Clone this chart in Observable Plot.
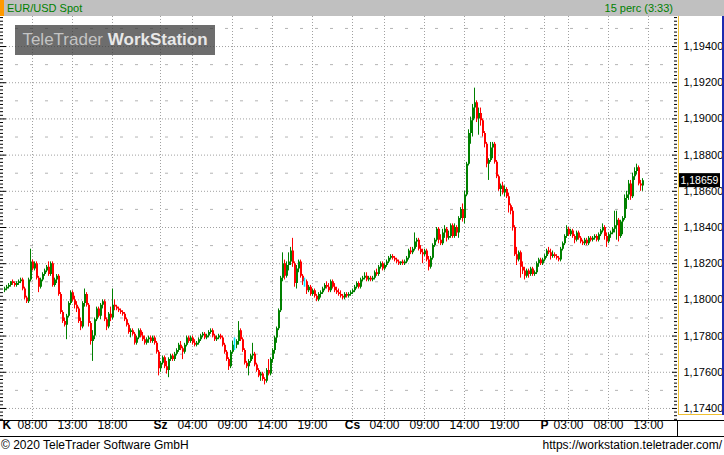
<!DOCTYPE html>
<html><head><meta charset="utf-8">
<script src="https://cdn.jsdelivr.net/npm/d3@7"></script>
<script src="https://cdn.jsdelivr.net/npm/@observablehq/plot@0.6"></script>
<style>
html,body{margin:0;padding:0;background:#fff;}
#wrap{position:relative;width:724px;height:455px;overflow:hidden;font-family:"Liberation Sans",Arial,sans-serif;background:#fff;}
#top{position:absolute;left:0;top:0;width:724px;height:16px;background:#c0c0c0;}
#top .sq{position:absolute;left:0;top:0;width:4px;height:16px;background:#ff9900;}
#top .t{position:absolute;top:0;font-size:11px;line-height:16px;color:#008000;white-space:nowrap;}
#chart{position:absolute;left:0;top:16px;}
.ln{position:absolute;}
#wm{position:absolute;left:15px;top:25px;width:200px;height:30px;background:rgba(60,60,60,0.75);color:#c4c4c4;font-family:"Liberation Sans",Arial,sans-serif;font-size:17px;line-height:30px;text-align:center;white-space:nowrap;}
#wm b{color:#e8e8e8;}
.foot{position:absolute;top:438px;font-size:12px;line-height:14px;color:#000;white-space:nowrap;}
</style></head>
<body>
<div id="wrap">
  <div id="top"><div class="sq"></div><div class="t" style="left:7px">EUR/USD Spot</div><div class="t" style="right:51px">15 perc (3:33)</div></div>
  <div id="chart"></div>
  <div class="ln" style="left:678px;top:16px;width:1px;height:398px;background:#f0c030"></div>
  <div class="ln" style="left:678px;top:414px;width:45px;height:1px;background:#f0c030"></div>
  <div class="ln" style="left:722px;top:16px;width:2px;height:399px;background:#1c2bb0"></div>
  <div class="ln" style="left:0;top:420px;width:724px;height:1px;background:#000"></div>
  <div class="ln" style="left:0;top:436px;width:724px;height:1px;background:#000"></div>
  <div class="ln" style="left:677px;top:420px;width:1px;height:17px;background:#000"></div>
  <div id="wm">TeleTrader <b>WorkStation</b></div>
  <div class="foot" style="left:1px">© 2020 TeleTrader Software GmbH</div>
  <div class="foot" style="right:2px">https://workstation.teletrader.com/</div>
</div>
<script>
// EUR/USD 15-minute candles, first candle K (Tue) 04:30
const firstCandle = "2020-08-04T04:30";
const candleMinutes = 15;
const open = [
1.1805,1.1806,1.1807,1.1808,1.1810,1.1809,1.1808,1.1809,1.1810,1.1811,
1.1806,1.1801,1.1799,1.1811,1.1821,1.1817,1.1820,1.1812,1.1807,1.1811,
1.1814,1.1816,1.1818,1.1814,1.1820,1.1808,1.1811,1.1813,1.1803,1.1793,
1.1788,1.1786,1.1791,1.1798,1.1804,1.1800,1.1797,1.1795,1.1788,1.1785,
1.1798,1.1803,1.1797,1.1787,1.1777,1.1780,1.1789,1.1795,1.1791,1.1797,
1.1799,1.1789,1.1785,1.1792,1.1790,1.1797,1.1796,1.1795,1.1794,1.1793,
1.1792,1.1789,1.1786,1.1782,1.1783,1.1781,1.1776,1.1779,1.1783,1.1780,
1.1778,1.1776,1.1778,1.1779,1.1777,1.1779,1.1776,1.1771,1.1762,1.1765,
1.1768,1.1763,1.1761,1.1767,1.1769,1.1767,1.1770,1.1772,1.1775,1.1773,
1.1771,1.1775,1.1779,1.1777,1.1779,1.1776,1.1775,1.1776,1.1778,1.1780,
1.1781,1.1779,1.1780,1.1782,1.1783,1.1780,1.1778,1.1779,1.1780,1.1779,
1.1775,1.1771,1.1767,1.1763,1.1771,1.1775,1.1775,1.1777,1.1783,1.1778,
1.1772,1.1765,1.1763,1.1766,1.1769,1.1770,1.1764,1.1761,1.1758,1.1759,
1.1756,1.1755,1.1761,1.1759,1.1767,1.1772,1.1779,1.1784,1.1794,1.1812,
1.1820,1.1813,1.1819,1.1821,1.1827,1.1820,1.1809,1.1817,1.1821,1.1813,
1.1810,1.1810,1.1805,1.1807,1.1803,1.1805,1.1802,1.1800,1.1803,1.1804,
1.1806,1.1808,1.1807,1.1805,1.1810,1.1807,1.1805,1.1804,1.1803,1.1802,
1.1801,1.1803,1.1802,1.1803,1.1804,1.1805,1.1807,1.1809,1.1807,1.1811,
1.1812,1.1813,1.1811,1.1812,1.1811,1.1812,1.1815,1.1814,1.1818,1.1820,
1.1817,1.1819,1.1821,1.1823,1.1824,1.1823,1.1822,1.1821,1.1820,1.1821,
1.1820,1.1821,1.1823,1.1827,1.1826,1.1828,1.1832,1.1833,1.1828,1.1826,
1.1825,1.1827,1.1822,1.1818,1.1823,1.1830,1.1833,1.1839,1.1833,1.1831,
1.1837,1.1839,1.1834,1.1835,1.1841,1.1835,1.1840,1.1837,1.1845,1.1850,
1.1845,1.1858,1.1875,1.1892,1.1899,1.1906,1.1909,1.1900,1.1903,1.1899,
1.1892,1.1886,1.1875,1.1877,1.1884,1.1886,1.1876,1.1868,1.1861,1.1863,
1.1859,1.1861,1.1857,1.1852,1.1849,1.1840,1.1825,1.1822,1.1826,1.1818,
1.1816,1.1813,1.1816,1.1814,1.1817,1.1814,1.1815,1.1820,1.1822,1.1820,
1.1822,1.1824,1.1827,1.1826,1.1824,1.1825,1.1824,1.1823,1.1822,1.1828,
1.1831,1.1835,1.1839,1.1836,1.1838,1.1835,1.1833,1.1837,1.1834,1.1832,
1.1831,1.1833,1.1831,1.1834,1.1833,1.1834,1.1835,1.1833,1.1836,1.1838,
1.1840,1.1835,1.1832,1.1836,1.1837,1.1839,1.1841,1.1844,1.1835,1.1843,
1.1845,1.1856,1.1858,1.1864,1.1857,1.1868,1.1871,1.1873,1.1864,1.1863];
const high = [
1.1807,1.1808,1.1809,1.1810,1.1811,1.1810,1.1810,1.1811,1.1812,1.1812,
1.1807,1.1802,1.1812,1.1828,1.1822,1.1821,1.1821,1.1813,1.1812,1.1815,
1.1817,1.1819,1.1821,1.1821,1.1821,1.1812,1.1814,1.1814,1.1804,1.1794,
1.1790,1.1792,1.1799,1.1805,1.1805,1.1802,1.1799,1.1796,1.1790,1.1799,
1.1806,1.1804,1.1798,1.1788,1.1783,1.1790,1.1796,1.1796,1.1798,1.1800,
1.1800,1.1790,1.1793,1.1796,1.1806,1.1800,1.1797,1.1796,1.1795,1.1794,
1.1793,1.1790,1.1787,1.1784,1.1784,1.1782,1.1780,1.1784,1.1784,1.1782,
1.1780,1.1779,1.1780,1.1780,1.1780,1.1780,1.1777,1.1772,1.1766,1.1769,
1.1769,1.1766,1.1768,1.1770,1.1770,1.1771,1.1773,1.1776,1.1777,1.1774,
1.1776,1.1780,1.1780,1.1780,1.1780,1.1778,1.1777,1.1779,1.1781,1.1782,
1.1782,1.1781,1.1783,1.1784,1.1784,1.1781,1.1780,1.1781,1.1781,1.1780,
1.1776,1.1772,1.1768,1.1772,1.1777,1.1779,1.1778,1.1788,1.1784,1.1779,
1.1773,1.1766,1.1767,1.1770,1.1776,1.1771,1.1765,1.1762,1.1760,1.1760,
1.1757,1.1762,1.1767,1.1768,1.1773,1.1780,1.1785,1.1795,1.1813,1.1826,
1.1822,1.1821,1.1826,1.1829,1.1834,1.1821,1.1819,1.1822,1.1822,1.1814,
1.1812,1.1811,1.1808,1.1808,1.1806,1.1806,1.1803,1.1804,1.1805,1.1807,
1.1809,1.1810,1.1809,1.1811,1.1811,1.1809,1.1807,1.1806,1.1805,1.1803,
1.1804,1.1804,1.1804,1.1805,1.1806,1.1808,1.1810,1.1810,1.1812,1.1813,
1.1815,1.1815,1.1813,1.1813,1.1813,1.1816,1.1817,1.1819,1.1821,1.1821,
1.1820,1.1822,1.1824,1.1825,1.1825,1.1824,1.1823,1.1822,1.1821,1.1822,
1.1822,1.1824,1.1828,1.1829,1.1829,1.1837,1.1834,1.1834,1.1830,1.1828,
1.1828,1.1828,1.1824,1.1824,1.1831,1.1834,1.1840,1.1840,1.1836,1.1839,
1.1841,1.1840,1.1838,1.1842,1.1842,1.1842,1.1841,1.1846,1.1851,1.1853,
1.1860,1.1876,1.1894,1.1901,1.1908,1.1917,1.1910,1.1906,1.1906,1.1900,
1.1893,1.1887,1.1878,1.1887,1.1887,1.1887,1.1877,1.1869,1.1864,1.1865,
1.1863,1.1862,1.1859,1.1853,1.1851,1.1841,1.1829,1.1827,1.1827,1.1821,
1.1818,1.1817,1.1817,1.1818,1.1818,1.1816,1.1821,1.1823,1.1823,1.1823,
1.1825,1.1828,1.1829,1.1828,1.1827,1.1826,1.1825,1.1824,1.1829,1.1832,
1.1836,1.1841,1.1840,1.1839,1.1839,1.1836,1.1838,1.1838,1.1835,1.1833,
1.1834,1.1834,1.1835,1.1835,1.1835,1.1836,1.1836,1.1837,1.1839,1.1842,
1.1841,1.1837,1.1837,1.1838,1.1840,1.1849,1.1849,1.1845,1.1844,1.1846,
1.1858,1.1860,1.1866,1.1866,1.1870,1.1873,1.1875,1.1874,1.1866,1.1867];
const low = [
1.1804,1.1805,1.1806,1.1807,1.1808,1.1807,1.1807,1.1808,1.1809,1.1805,
1.1800,1.1798,1.1798,1.1810,1.1816,1.1816,1.1811,1.1804,1.1806,1.1810,
1.1813,1.1815,1.1813,1.1813,1.1807,1.1807,1.1809,1.1802,1.1792,1.1787,
1.1785,1.1778,1.1790,1.1797,1.1799,1.1795,1.1793,1.1787,1.1783,1.1784,
1.1796,1.1796,1.1785,1.1775,1.1766,1.1778,1.1788,1.1790,1.1789,1.1795,
1.1788,1.1783,1.1784,1.1788,1.1789,1.1794,1.1794,1.1793,1.1792,1.1791,
1.1788,1.1785,1.1781,1.1779,1.1780,1.1775,1.1775,1.1778,1.1779,1.1777,
1.1775,1.1775,1.1776,1.1776,1.1776,1.1775,1.1770,1.1758,1.1760,1.1764,
1.1762,1.1759,1.1757,1.1766,1.1766,1.1766,1.1769,1.1771,1.1772,1.1767,
1.1770,1.1774,1.1776,1.1776,1.1775,1.1774,1.1774,1.1775,1.1777,1.1779,
1.1778,1.1778,1.1779,1.1781,1.1779,1.1777,1.1777,1.1778,1.1778,1.1774,
1.1770,1.1766,1.1761,1.1762,1.1770,1.1772,1.1773,1.1775,1.1777,1.1771,
1.1764,1.1762,1.1758,1.1765,1.1767,1.1763,1.1760,1.1757,1.1755,1.1755,
1.1753,1.1754,1.1758,1.1758,1.1765,1.1770,1.1776,1.1783,1.1793,1.1810,
1.1811,1.1812,1.1816,1.1819,1.1818,1.1807,1.1806,1.1815,1.1812,1.1808,
1.1807,1.1803,1.1804,1.1802,1.1802,1.1801,1.1799,1.1799,1.1801,1.1803,
1.1805,1.1806,1.1804,1.1804,1.1806,1.1804,1.1803,1.1802,1.1801,1.1800,
1.1800,1.1801,1.1801,1.1802,1.1803,1.1804,1.1806,1.1806,1.1806,1.1810,
1.1811,1.1810,1.1810,1.1810,1.1810,1.1811,1.1813,1.1813,1.1817,1.1816,
1.1816,1.1818,1.1820,1.1822,1.1822,1.1821,1.1820,1.1819,1.1819,1.1819,
1.1819,1.1820,1.1822,1.1825,1.1825,1.1827,1.1829,1.1827,1.1825,1.1820,
1.1824,1.1821,1.1816,1.1817,1.1822,1.1829,1.1832,1.1831,1.1830,1.1830,
1.1834,1.1832,1.1833,1.1834,1.1834,1.1834,1.1835,1.1834,1.1844,1.1843,
1.1842,1.1857,1.1874,1.1886,1.1890,1.1900,1.1898,1.1891,1.1896,1.1890,
1.1884,1.1873,1.1866,1.1876,1.1878,1.1875,1.1867,1.1860,1.1857,1.1858,
1.1857,1.1856,1.1848,1.1847,1.1838,1.1824,1.1819,1.1821,1.1812,1.1814,
1.1811,1.1812,1.1812,1.1813,1.1813,1.1813,1.1814,1.1818,1.1819,1.1819,
1.1821,1.1823,1.1825,1.1822,1.1823,1.1823,1.1822,1.1821,1.1821,1.1827,
1.1830,1.1834,1.1835,1.1835,1.1834,1.1831,1.1832,1.1833,1.1831,1.1830,
1.1830,1.1830,1.1830,1.1832,1.1832,1.1833,1.1832,1.1832,1.1835,1.1837,
1.1833,1.1829,1.1831,1.1834,1.1836,1.1837,1.1833,1.1832,1.1834,1.1836,
1.1844,1.1850,1.1855,1.1855,1.1856,1.1866,1.1869,1.1863,1.1860,1.1860];
const close = [
1.1806,1.1807,1.1808,1.1810,1.1809,1.1808,1.1809,1.1810,1.1811,1.1806,
1.1801,1.1799,1.1811,1.1821,1.1817,1.1820,1.1812,1.1807,1.1811,1.1814,
1.1816,1.1818,1.1814,1.1820,1.1808,1.1811,1.1813,1.1803,1.1793,1.1788,
1.1786,1.1791,1.1798,1.1804,1.1800,1.1797,1.1795,1.1788,1.1785,1.1798,
1.1803,1.1797,1.1787,1.1777,1.1780,1.1789,1.1795,1.1791,1.1797,1.1799,
1.1789,1.1785,1.1792,1.1790,1.1797,1.1796,1.1795,1.1794,1.1793,1.1792,
1.1789,1.1786,1.1782,1.1783,1.1781,1.1776,1.1779,1.1783,1.1780,1.1778,
1.1776,1.1778,1.1779,1.1777,1.1779,1.1776,1.1771,1.1762,1.1765,1.1768,
1.1763,1.1761,1.1767,1.1769,1.1767,1.1770,1.1772,1.1775,1.1773,1.1771,
1.1775,1.1779,1.1777,1.1779,1.1776,1.1775,1.1776,1.1778,1.1780,1.1781,
1.1779,1.1780,1.1782,1.1783,1.1780,1.1778,1.1779,1.1780,1.1779,1.1775,
1.1771,1.1767,1.1763,1.1771,1.1775,1.1775,1.1777,1.1783,1.1778,1.1772,
1.1765,1.1763,1.1766,1.1769,1.1770,1.1764,1.1761,1.1758,1.1759,1.1756,
1.1755,1.1761,1.1759,1.1767,1.1772,1.1779,1.1784,1.1794,1.1812,1.1820,
1.1813,1.1819,1.1821,1.1827,1.1820,1.1809,1.1817,1.1821,1.1813,1.1810,
1.1810,1.1805,1.1807,1.1803,1.1805,1.1802,1.1800,1.1803,1.1804,1.1806,
1.1808,1.1807,1.1805,1.1810,1.1807,1.1805,1.1804,1.1803,1.1802,1.1801,
1.1803,1.1802,1.1803,1.1804,1.1805,1.1807,1.1809,1.1807,1.1811,1.1812,
1.1813,1.1811,1.1812,1.1811,1.1812,1.1815,1.1814,1.1818,1.1820,1.1817,
1.1819,1.1821,1.1823,1.1824,1.1823,1.1822,1.1821,1.1820,1.1821,1.1820,
1.1821,1.1823,1.1827,1.1826,1.1828,1.1832,1.1833,1.1828,1.1826,1.1825,
1.1827,1.1822,1.1818,1.1823,1.1830,1.1833,1.1839,1.1833,1.1831,1.1837,
1.1839,1.1834,1.1835,1.1841,1.1835,1.1840,1.1837,1.1845,1.1850,1.1845,
1.1858,1.1875,1.1892,1.1899,1.1906,1.1909,1.1900,1.1903,1.1899,1.1892,
1.1886,1.1875,1.1877,1.1884,1.1886,1.1876,1.1868,1.1861,1.1863,1.1859,
1.1861,1.1857,1.1852,1.1849,1.1840,1.1825,1.1822,1.1826,1.1818,1.1816,
1.1813,1.1816,1.1814,1.1817,1.1814,1.1815,1.1820,1.1822,1.1820,1.1822,
1.1824,1.1827,1.1826,1.1824,1.1825,1.1824,1.1823,1.1822,1.1828,1.1831,
1.1835,1.1839,1.1836,1.1838,1.1835,1.1833,1.1837,1.1834,1.1832,1.1831,
1.1833,1.1831,1.1834,1.1833,1.1834,1.1835,1.1833,1.1836,1.1838,1.1840,
1.1835,1.1832,1.1836,1.1837,1.1839,1.1841,1.1844,1.1835,1.1843,1.1845,
1.1856,1.1858,1.1864,1.1857,1.1868,1.1871,1.1873,1.1864,1.1863,1.18659];

// axis ticks and labels
const priceTicks = [1.174, 1.176, 1.178, 1.180, 1.182, 1.184, 1.186, 1.188, 1.190, 1.192, 1.194];
const hourTimes = ["2020-08-04T08:00","2020-08-04T13:00","2020-08-04T18:00","2020-08-05T04:00","2020-08-05T09:00","2020-08-05T14:00","2020-08-05T19:00","2020-08-06T04:00","2020-08-06T09:00","2020-08-06T14:00","2020-08-06T19:00","2020-08-07T03:00","2020-08-07T08:00","2020-08-07T13:00"];
const hourLabels = ["08:00","13:00","18:00","04:00","09:00","14:00","19:00","04:00","09:00","14:00","19:00","03:00","08:00","13:00"];
const dayTimes = ["2020-08-05T00:00","2020-08-06T00:00","2020-08-07T00:00"];
const dayLabels = ["Sz","Cs","P"];
const firstDayLabel = "K";
const viewStart = "2020-08-04T04:00";
const viewEnd = "2020-08-07T16:30";

const utc = s => new Date(s + ":00Z");
const MIN = 60000;
const pxMin = 7.5; // minutes per pixel at this width
const t0 = utc(firstCandle);
const candles = close.map((c, i) => ({
  t: new Date(+t0 + i * candleMinutes * MIN),
  tm: new Date(+t0 + i * candleMinutes * MIN + 0.5 * pxMin * MIN),
  open: open[i], high: high[i], low: low[i], close: c
}));
const up = candles.filter(d => d.close > d.open);
const down = candles.filter(d => d.close < d.open);
const flat = candles.filter(d => d.close === d.open);
const x0 = utc(viewStart), x1 = utc(viewEnd);
const hours = hourTimes.map((s, i) => ({t: utc(s), label: hourLabels[i]}));
const days = dayTimes.map((s, i) => ({t: utc(s), label: dayLabels[i]}));
const fmt = v => v.toFixed(5).replace(".", ",");
const minorTicks = d3.range(1.1734, 1.1958, 0.0002).filter(v => Math.abs(Math.round(v * 500) - v * 500) > 1e-6);
const midLines = d3.range(1.175, 1.1960, 0.002);
const last = close[close.length - 1];

const chart = Plot.plot({
  width: 724, height: 421,
  marginLeft: 0, marginRight: 48, marginTop: 0, marginBottom: 18,
  x: {type: "utc", domain: [x0, x1], axis: null},
  y: {domain: [1.17339, 1.19566], axis: "right", ticks: priceTicks, tickFormat: fmt, tickSize: 0, tickPadding: 7, label: null},
  style: {fontFamily: "'Liberation Sans', Arial, sans-serif", fontSize: "11px", color: "#000", background: "transparent", overflow: "visible"},
  marks: [
    Plot.ruleY(midLines, {stroke: "#b4b4b4", strokeDasharray: "3,12"}),
    Plot.ruleY(priceTicks, {stroke: "#a0a0a0", strokeDasharray: "1,2"}),
    Plot.ruleX(hours, {x: "t", stroke: "#a0a0a0", strokeDasharray: "1,2"}),
    Plot.ruleX(days, {x: "t", stroke: "#a0a0a0", strokeDasharray: "1,2"}),
    // wicks (1px) and bodies (2px)
    Plot.ruleX(up, {x: "t", y1: "low", y2: "high", stroke: "#008000"}),
    Plot.ruleX(up, {x: "tm", y1: "open", y2: "close", stroke: "#008000", strokeWidth: 2}),
    Plot.ruleX(down, {x: "t", y1: "low", y2: "high", stroke: "#ff0000"}),
    Plot.ruleX(down, {x: "tm", y1: "open", y2: "close", stroke: "#ff0000", strokeWidth: 2}),
    Plot.ruleX(flat, {x: "t", y1: "low", y2: "high", stroke: "#00e5ff", strokeWidth: 1.5}),
    // left and right axis ticks
    Plot.ruleY(minorTicks, {x1: x0, x2: new Date(+x0 + 3 * pxMin * MIN), stroke: "#000"}),
    Plot.ruleY(priceTicks, {x1: x0, x2: new Date(+x0 + 6 * pxMin * MIN), stroke: "#000"}),
    Plot.ruleY(minorTicks, {x1: new Date(+x1 - 2 * pxMin * MIN), x2: new Date(+x1 + 1 * pxMin * MIN), stroke: "#000"}),
    Plot.ruleY(priceTicks, {x1: new Date(+x1 - 4 * pxMin * MIN), x2: new Date(+x1 + 1 * pxMin * MIN), stroke: "#000"}),
    // last price marker
    Plot.rect([last], {x1: x1, x2: x1, y1: d => d, y2: d => d, insetLeft: 3, insetRight: -44, insetTop: -7, insetBottom: -7, fill: "#000"}),
    Plot.text([last], {x: x1, y: d => d, text: fmt, dx: 4, textAnchor: "start", fill: "#fff", fontSize: 10.5}),
    // time axis
    Plot.text(hours, {x: "t", text: "label", frameAnchor: "bottom", dy: 9, fontSize: 12, fill: "#000"}),
    Plot.text(days, {x: "t", text: "label", frameAnchor: "bottom", dy: 9, fontSize: 12, fontWeight: "bold", fill: "#000"}),
    Plot.text([firstDayLabel], {x: x0, text: d => d, frameAnchor: "bottom", dy: 9, dx: 2, textAnchor: "start", fontSize: 12, fontWeight: "bold", fill: "#000"})
  ]
});
document.getElementById("chart").appendChild(chart);
</script>
</body></html>
